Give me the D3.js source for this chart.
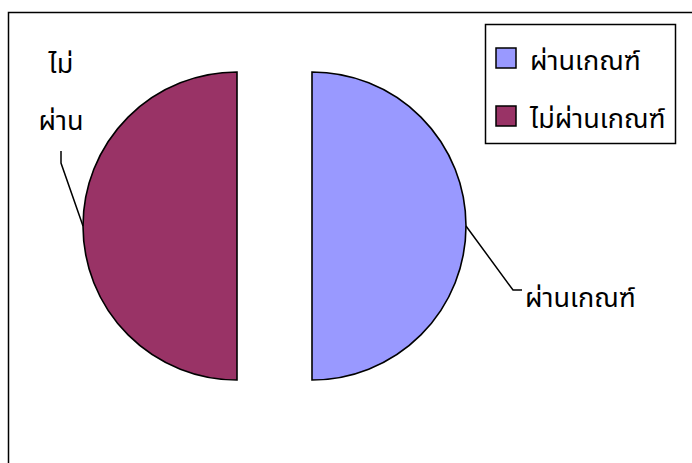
<!DOCTYPE html>
<html>
<head>
<meta charset="utf-8">
<script src="https://cdn.jsdelivr.net/npm/d3@7"></script>
<style>
  body { margin: 0; background: #fff; }
  svg text { font-family: "Noto Sans Thai", "Noto Sans Thai UI", "Loma", "Garuda", "Noto Sans", sans-serif; fill: #000; }
</style>
</head>
<body>
<div id="chart"></div>
<script>
// slice names and values (two equal halves)
const categories = ['ผ่านเกณฑ์', 'ไม่ผ่านเกณฑ์'];
const values = [50, 50];
const colors = ['#9999FF', '#993366'];

const width = 692, height = 463;
const cx = 274.5, cy = 226, radius = 154, explode = 37.5;
const fontSize = '27px';

const svg = d3.select('#chart')
  .append('svg')
  .attr('width', width)
  .attr('height', height);

// chart frame (runs off the right and bottom edges)
svg.append('rect')
  .attr('x', 8.5).attr('y', 12.5)
  .attr('width', 720).attr('height', 500)
  .attr('fill', 'none')
  .attr('stroke', '#000')
  .attr('stroke-width', 1.5);

const pie = d3.pie().sort(null).startAngle(0).endAngle(2 * Math.PI);
const arcs = pie(values);
const arc = d3.arc().innerRadius(0).outerRadius(radius);

const g = svg.append('g').attr('transform', `translate(${cx},${cy})`);

g.selectAll('.slice')
  .data(arcs)
  .enter()
  .append('path')
  .attr('class', 'slice')
  .attr('d', arc)
  .attr('transform', d => {
    const a = (d.startAngle + d.endAngle) / 2;
    return `translate(${explode * Math.sin(a)},${-explode * Math.cos(a)})`;
  })
  .attr('fill', (d, i) => colors[i])
  .attr('stroke', '#000')
  .attr('stroke-width', 1.6);

// point on the slice edge at its middle angle
function edgePoint(d) {
  const a = (d.startAngle + d.endAngle) / 2;
  const r = radius + explode;
  return [cx + r * Math.sin(a), cy - r * Math.cos(a)];
}

// data labels with leader lines
const labelLayout = [
  { elbow: [[513, 290], [522, 290]], lines: ['ผ่านเกณฑ์'], x: 525, y: 307, anchor: 'start' },
  { elbow: [[61, 163], [61, 151]], lines: ['ไม่', 'ผ่าน'], x: 61, y: 73, anchor: 'middle' }
];

arcs.forEach((d, i) => {
  const L = labelLayout[i];
  const p = edgePoint(d);
  svg.append('path')
    .attr('d', d3.line()([p].concat(L.elbow)))
    .attr('fill', 'none')
    .attr('stroke', '#000')
    .attr('stroke-width', 1.5);
  const t = svg.append('text')
    .attr('x', L.x).attr('y', L.y)
    .attr('text-anchor', L.anchor)
    .style('font-size', fontSize);
  L.lines.forEach((s, j) => {
    t.append('tspan').attr('x', L.x).attr('dy', j === 0 ? 0 : 57).text(s);
  });
});

// legend
const legend = svg.append('g').attr('class', 'legend');
legend.append('rect')
  .attr('x', 485.5).attr('y', 24.5)
  .attr('width', 190).attr('height', 119)
  .attr('fill', '#fff')
  .attr('stroke', '#000')
  .attr('stroke-width', 1.5);

const item = legend.selectAll('.item')
  .data(categories)
  .enter()
  .append('g')
  .attr('class', 'item')
  .attr('transform', (d, i) => `translate(0,${i * 58})`);

item.append('rect')
  .attr('x', 496).attr('y', 48)
  .attr('width', 20).attr('height', 20)
  .attr('fill', (d, i) => colors[i])
  .attr('stroke', '#000')
  .attr('stroke-width', 1.5);

item.append('text')
  .attr('x', 530).attr('y', 70)
  .style('font-size', fontSize)
  .text(d => d);
</script>
</body>
</html>
